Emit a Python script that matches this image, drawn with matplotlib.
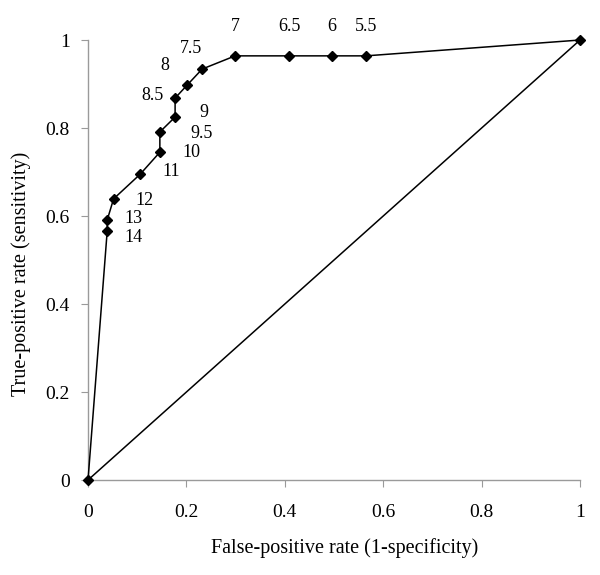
import matplotlib
matplotlib.use("Agg")
import matplotlib.pyplot as plt

fpr = [0.0, 0.039, 0.039, 0.052, 0.106, 0.146, 0.146, 0.177, 0.177, 0.201, 0.232, 0.299, 0.409, 0.496, 0.565, 1.0]
tpr = [0.0, 0.566, 0.591, 0.639, 0.695, 0.745, 0.791, 0.825, 0.868, 0.897, 0.934, 0.964, 0.964, 0.964, 0.964, 1.0]
cutoffs = [None, "14", "13", "12", "11", "10", "9.5", "9", "8.5", "8", "7.5", "7", "6.5", "6", "5.5", None]
# label offsets in points (dx, dy)
offsets = [None, (19, -5), (19, 1), (22, -1), (22, 2), (23, 0), (30, -1), (21, 3), (-16, 2), (-16, 14), (-8, 15), (0, 21), (0, 21), (0, 21), (0, 21), None]

plt.rcParams['font.family'] = ['Liberation Serif', 'DejaVu Serif']
fig = plt.figure(figsize=(6, 5.75), dpi=100)
ax = fig.add_axes([0.1467, 0.1652, 0.82, 0.7652])

ax.plot([0, 1], [0, 1], color='black', lw=1.1, clip_on=False)
ax.plot(fpr, tpr, color='black', lw=1.1, marker='D', markersize=5.5, clip_on=False, zorder=3)

for x, y, lab, off in zip(fpr, tpr, cutoffs, offsets):
    if lab is None:
        continue
    ax.annotate(lab, (x, y), xytext=off, textcoords='offset points', ha='center', va='center', fontsize=13)

ax.set_xlim(0, 1)
ax.set_ylim(0, 1)
ticks = [0, 0.2, 0.4, 0.6, 0.8, 1]
tick_labels = ["0", "0.2", "0.4", "0.6", "0.8", "1"]
ax.set_xticks(ticks)
ax.set_xticklabels(tick_labels)
ax.set_yticks(ticks)
ax.set_yticklabels(tick_labels)
for s in ['top', 'right']:
    ax.spines[s].set_visible(False)
for s in ['left', 'bottom']:
    ax.spines[s].set_color('#9a9a9a')
    ax.spines[s].set_linewidth(1.0)
ax.tick_params(colors='#9a9a9a', labelcolor='black', labelsize=14, length=5, direction='out')
ax.tick_params(axis='x', pad=12)
ax.tick_params(axis='y', pad=8)
ax.set_xlabel("False-positive rate (1-specificity)", fontsize=14.5, va='center')
ax.set_ylabel("True-positive rate (sensitivity)", fontsize=14.5, va='center')
ax.xaxis.set_label_coords(0.522, -0.155)
ax.yaxis.set_label_coords(-0.136, 0.468)

fig.savefig("out.png", dpi=100)
